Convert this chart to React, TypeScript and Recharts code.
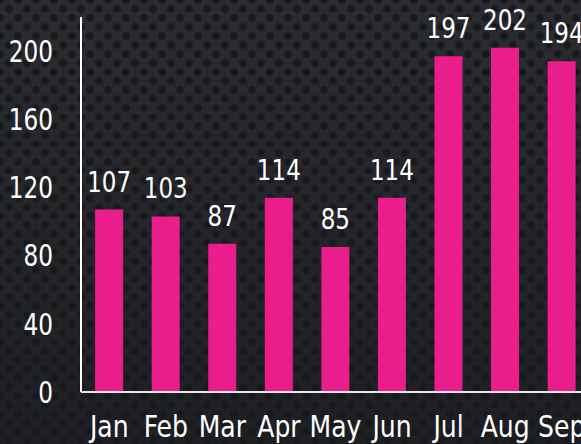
import { Bar, BarChart, LabelList, XAxis, YAxis } from "recharts";

const months = ["Jan", "Feb", "Mar", "Apr", "May", "Jun", "Jul", "Aug", "Sep"];
const sales = [107, 103, 87, 114, 85, 114, 197, 202, 194];
const yTicks = [0, 40, 80, 120, 160, 200];

const data = months.map((m, i) => ({ month: m, value: sales[i] }));

const font = '"DejaVu Sans Condensed", "DejaVu Sans", sans-serif';

// narrow text: the original face is taller and thinner than anything installed
function NarrowText({ x, y, text, size, squeeze, anchor, dy }: any) {
  return (
    <g transform={`translate(${x},${y}) scale(${squeeze},1)`}>
      <text
        x={0}
        y={0}
        dy={dy}
        textAnchor={anchor}
        fill="#ffffff"
        fontSize={size}
        fontFamily={font}
      >
        {text}
      </text>
    </g>
  );
}

const XTick = (props: any) => (
  <NarrowText
    x={props.x}
    y={props.y}
    text={props.payload.value}
    size={30}
    squeeze={0.93}
    anchor="middle"
    dy="0.71em"
  />
);

const YTick = (props: any) => (
  <NarrowText
    x={props.x}
    y={props.y}
    text={props.payload.value}
    size={30}
    squeeze={0.86}
    anchor="end"
    dy="0.36em"
  />
);

const TopLabel = (props: any) => (
  <NarrowText
    x={props.x + props.width / 2}
    y={props.y - 18}
    text={props.value}
    size={27.5}
    squeeze={0.93}
    anchor="middle"
    dy={0}
  />
);

export default function App() {
  return (
    <div
      style={{
        position: "absolute",
        left: 0,
        top: 0,
        width: 581,
        height: 444,
        overflow: "hidden",
        backgroundColor: "#2a2b2f",
        backgroundImage:
          "radial-gradient(circle at center, #18191c 0, #18191c 2.5px, rgba(24,25,28,0) 5px), radial-gradient(circle at center, #18191c 0, #18191c 2.5px, rgba(24,25,28,0) 5px), linear-gradient(#2b2c30, #1e1f22)",
        backgroundSize: "18px 18px, 18px 18px, 100% 100%",
        backgroundPosition: "0 0, 9px 9px, 0 0",
      }}
    >
      <BarChart
        width={590}
        height={444}
        data={data}
        margin={{ top: 17, right: 0, bottom: 0, left: 0 }}
        barCategoryGap="25%"
      >
        <XAxis
          dataKey="month"
          height={52}
          tickLine={false}
          tickSize={0}
          tickMargin={24}
          axisLine={{ stroke: "#e6e6e6", strokeWidth: 2 }}
          tick={<XTick />}
          interval={0}
        />
        <YAxis
          width={81}
          domain={[0, 220]}
          ticks={yTicks}
          tickLine={false}
          tickSize={0}
          tickMargin={28}
          axisLine={{ stroke: "#ffffff", strokeWidth: 2 }}
          tick={<YTick />}
        />
        <Bar dataKey="value" fill="#e91e8c" isAnimationActive={false}>
          <LabelList dataKey="value" content={<TopLabel />} />
        </Bar>
      </BarChart>
    </div>
  );
}
